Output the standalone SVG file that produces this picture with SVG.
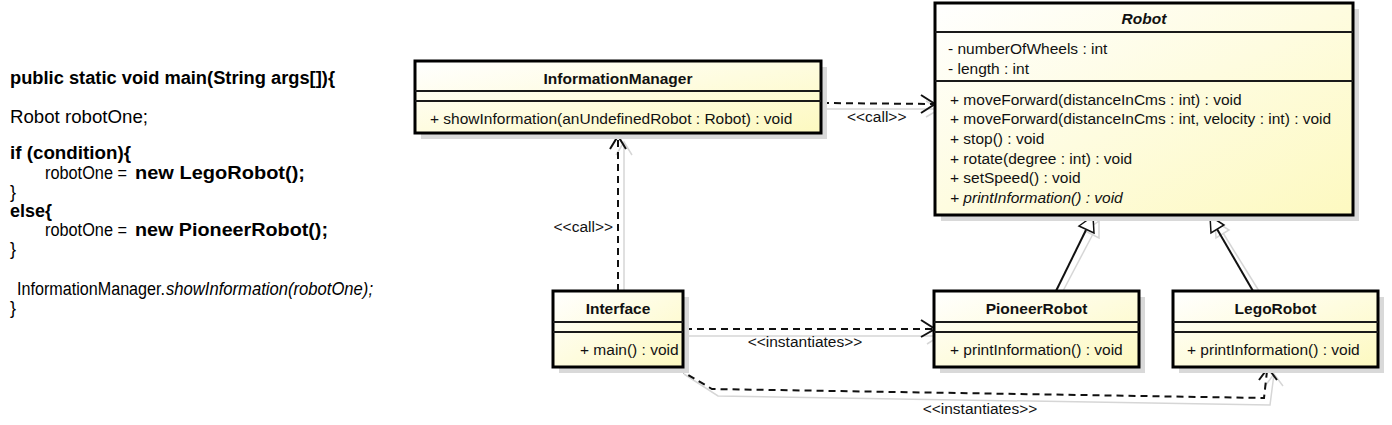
<svg xmlns="http://www.w3.org/2000/svg" width="1392" height="425" viewBox="0 0 1392 425">
<style>
.bg{fill:#fff}
.box{stroke:#000;stroke-width:3;fill:url(#g)}
.shd{fill:#d9d9d9}
.dv{stroke:#1a1a1a;stroke-width:2}
.t{font-family:"Liberation Sans",Arial,sans-serif;font-size:15.5px;fill:#111}
.b{font-weight:bold}
.i{font-style:italic}
.c{text-anchor:middle}
.e{text-anchor:end}
.dash{stroke:#111;stroke-width:2;stroke-dasharray:7 5;fill:none}
.sh{stroke:#d6d6d6;stroke-width:1.5;fill:none}
.ar{stroke:#111;stroke-width:2;fill:none}
.tri{stroke:#111;stroke-width:1.5;fill:#fff}
.ln{stroke:#111;stroke-width:2;fill:none}
.code{font-family:"Liberation Sans",Arial,sans-serif;font-size:18px;fill:#000}
</style>
<defs>
<linearGradient id="g" x1="0" y1="0" x2="1" y2="1">
<stop offset="0" stop-color="#ffffff"/>
<stop offset="1" stop-color="#fdf9c0"/>
</linearGradient>
</defs>
<rect class="bg" x="0" y="0" width="1392" height="425"/>

<g id="code">
<text class="code b" x="10" y="84" textLength="325" lengthAdjust="spacingAndGlyphs">public static void main(String args[]){</text>
<text class="code" x="10" y="123" textLength="138" lengthAdjust="spacingAndGlyphs">Robot robotOne;</text>
<text class="code b" x="10" y="159" textLength="121" lengthAdjust="spacingAndGlyphs">if (condition){</text>
<text class="code" x="45" y="179" textLength="82" lengthAdjust="spacingAndGlyphs">robotOne =</text>
<text class="code b" x="135" y="179" textLength="170" lengthAdjust="spacingAndGlyphs">new LegoRobot();</text>
<text class="code" x="10" y="198">}</text>
<text class="code b" x="10" y="217" textLength="42" lengthAdjust="spacingAndGlyphs">else{</text>
<text class="code" x="45" y="236" textLength="82" lengthAdjust="spacingAndGlyphs">robotOne =</text>
<text class="code b" x="135" y="236" textLength="193" lengthAdjust="spacingAndGlyphs">new PioneerRobot();</text>
<text class="code" x="10" y="255">}</text>
<text class="code" x="17" y="295" textLength="148" lengthAdjust="spacingAndGlyphs">InformationManager.</text>
<text class="code i" x="166" y="295" textLength="207" lengthAdjust="spacingAndGlyphs">showInformation(robotOne);</text>
<text class="code" x="10" y="314">}</text>
</g>

<g id="connectors">
<line class="sh" x1="822" y1="109" x2="940" y2="109"/>
<polyline class="sh" points="926,101 940,109 926,117"/>
<line class="dash" x1="822" y1="103" x2="933" y2="104"/>
<polyline class="ar" points="921,95 935,104 921,113"/>
<text class="t" x="847" y="122">&lt;&lt;call&gt;&gt;</text>
<line class="sh" x1="624" y1="291" x2="624" y2="142"/>
<polyline class="sh" points="616,155 624,142 632,155"/>
<line class="dash" x1="618" y1="291" x2="618" y2="138"/>
<polyline class="ar" points="610,149 618,136 626,149"/>
<text class="t e" x="613" y="232">&lt;&lt;call&gt;&gt;</text>
<line class="sh" x1="685" y1="336" x2="940" y2="336"/>
<polyline class="sh" points="927,328 940,336 927,344"/>
<line class="dash" x1="685" y1="329" x2="932" y2="329"/>
<polyline class="ar" points="921,320 935,329 921,337"/>
<text class="t c" x="805" y="347">&lt;&lt;instantiates&gt;&gt;</text>
<polyline class="sh" points="684,374 718,396 1270,405 1274,374"/>
<polyline class="sh" points="1265,386 1274,374 1283,386"/>
<polyline class="dash" points="678,369 712,389 1264,398 1267,371"/>
<polyline class="ar" points="1259,380 1268,368 1277,380"/>
<text class="t c" x="980" y="414">&lt;&lt;instantiates&gt;&gt;</text>
<line class="sh" x1="1063" y1="291" x2="1093" y2="234"/>
<polygon class="sh" points="1099,221 1085,231 1099,238"/>
<line class="ln" x1="1056" y1="291" x2="1086" y2="230"/>
<polygon class="tri" points="1093,216 1079,226 1094,233"/>
<line class="sh" x1="1259" y1="291" x2="1223" y2="233"/>
<polygon class="sh" points="1215,221 1229,230 1216,238"/>
<line class="ln" x1="1253" y1="291" x2="1217" y2="229"/>
<polygon class="tri" points="1210,216 1224,225 1211,233"/>
</g>

<g id="InformationManager">
<rect class="shd" x="421" y="67" width="406" height="72"/>
<rect class="box" x="415" y="61" width="406" height="72"/>
<line class="dv" x1="415" y1="91" x2="821" y2="91"/>
<line class="dv" x1="415" y1="101" x2="821" y2="101"/>
<text class="t b c" x="618" y="84">InformationManager</text>
<text class="t" x="430" y="124">+ showInformation(anUndefinedRobot : Robot) : void</text>
</g>

<g id="Robot">
<rect class="shd" x="941" y="9" width="418" height="212"/>
<rect class="box" x="935" y="3" width="418" height="212"/>
<line class="dv" x1="935" y1="32" x2="1353" y2="32"/>
<line class="dv" x1="935" y1="81" x2="1353" y2="81"/>
<text class="t b i c" x="1144" y="23.5">Robot</text>
<text class="t" x="948" y="53.5">- numberOfWheels : int</text>
<text class="t" x="948" y="73.5">- length : int</text>
<text class="t" x="950" y="104.5">+ moveForward(distanceInCms : int) : void</text>
<text class="t" x="950" y="124">+ moveForward(distanceInCms : int, velocity : int) : void</text>
<text class="t" x="950" y="143.5">+ stop() : void</text>
<text class="t" x="950" y="163.5">+ rotate(degree : int) : void</text>
<text class="t" x="950" y="183">+ setSpeed() : void</text>
<text class="t i" x="950" y="203">+ printInformation() : void</text>
</g>

<g id="Interface">
<rect class="shd" x="559" y="297" width="130" height="76"/>
<rect class="box" x="553" y="291" width="130" height="76"/>
<line class="dv" x1="553" y1="322" x2="683" y2="322"/>
<line class="dv" x1="553" y1="332" x2="683" y2="332"/>
<text class="t b c" x="618" y="313.5">Interface</text>
<text class="t" x="580" y="354.5">+ main() : void</text>
</g>

<g id="PioneerRobot">
<rect class="shd" x="940" y="297" width="205" height="76"/>
<rect class="box" x="934" y="291" width="205" height="76"/>
<line class="dv" x1="934" y1="322" x2="1139" y2="322"/>
<line class="dv" x1="934" y1="332" x2="1139" y2="332"/>
<text class="t b c" x="1036.5" y="313.5">PioneerRobot</text>
<text class="t" x="950" y="354.5">+ printInformation() : void</text>
</g>

<g id="LegoRobot">
<rect class="shd" x="1179" y="297" width="205" height="76"/>
<rect class="box" x="1173" y="291" width="205" height="76"/>
<line class="dv" x1="1173" y1="322" x2="1378" y2="322"/>
<line class="dv" x1="1173" y1="332" x2="1378" y2="332"/>
<text class="t b c" x="1275.5" y="313.5">LegoRobot</text>
<text class="t" x="1187" y="354.5">+ printInformation() : void</text>
</g>
</svg>
